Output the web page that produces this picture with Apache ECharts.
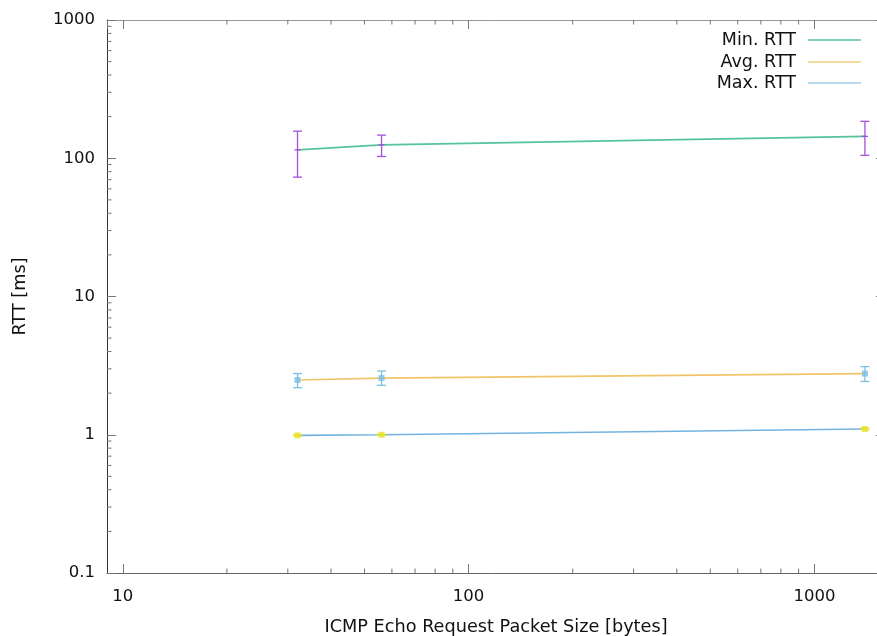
<!DOCTYPE html>
<html>
<head>
<meta charset="utf-8">
<script src="https://cdn.jsdelivr.net/npm/echarts@6/dist/echarts.min.js"></script>
<style>
  html, body { margin: 0; padding: 0; background: #fff; }
  #chart { width: 877px; height: 636px; }
</style>
</head>
<body>
<div id="chart"></div>
<script>
// packet sizes [bytes]
const sizes = [32, 56, 1400];

// "Min. RTT" line + purple error bars
const minRtt = [115, 125, 144];
const minLow = [73, 103, 105];
const minHigh = [157, 147, 185];

// "Avg. RTT" line + light blue error bars
const avgRtt = [2.49, 2.57, 2.77];
const avgLow = [2.19, 2.28, 2.43];
const avgHigh = [2.77, 2.89, 3.11];

// "Max. RTT" line + yellow error bars
const maxRtt = [0.99, 1.0, 1.1];
const maxLow = [0.98, 0.99, 1.09];
const maxHigh = [1.0, 1.01, 1.12];

// axis ranges and minor ticks
const xMin = 9, xMax = 1600;
const yMin = 0.1, yMax = 1000;
const xMinorTicks = [20, 30, 40, 50, 60, 70, 80, 90, 200, 300, 400, 500, 600, 700, 800, 900];
const yMinorTicks = [0.2, 0.3, 0.4, 0.5, 0.6, 0.7, 0.8, 0.9, 2, 3, 4, 5, 6, 7, 8, 9,
  20, 30, 40, 50, 60, 70, 80, 90, 200, 300, 400, 500, 600, 700, 800, 900];

const FONT = 'DejaVu Sans';
const fmt = v => String(parseFloat(Number(v).toPrecision(6)));

function zip(a, b, c, d) {
  return a.map((x, i) => [x, b[i], c[i], d[i]]);
}

function errorBars(color, center) {
  return function (params, api) {
    const x = api.value(0);
    const c = api.coord([x, api.value(1)]);
    const lo = api.coord([x, api.value(2)]);
    const hi = api.coord([x, api.value(3)]);
    const st = { stroke: color, lineWidth: 1.3 };
    const kids = [
      { type: 'line', shape: { x1: lo[0], y1: lo[1], x2: hi[0], y2: hi[1] }, style: st },
      { type: 'line', shape: { x1: lo[0] - 4.5, y1: lo[1], x2: lo[0] + 4.5, y2: lo[1] }, style: st },
      { type: 'line', shape: { x1: hi[0] - 4.5, y1: hi[1], x2: hi[0] + 4.5, y2: hi[1] }, style: st }
    ];
    if (center === 'dash') {
      kids.push({ type: 'line', shape: { x1: c[0] - 3, y1: c[1], x2: c[0] + 3, y2: c[1] }, style: st });
    } else {
      kids.push({ type: 'rect', shape: { x: c[0] - 3, y: c[1] - 3, width: 6, height: 6 },
        style: { fill: color, opacity: 0.8 } });
    }
    return { type: 'group', children: kids };
  };
}

const tickColor = '#777';

const chart = echarts.init(document.getElementById('chart'));
chart.setOption({
  animation: false,
  backgroundColor: '#fff',
  textStyle: { fontFamily: FONT },
  grid: { left: 107, top: 20, width: 778, height: 553, containLabel: false, outerBoundsMode: 'none' },
  legend: [
    { data: ['Min. RTT'], right: 16, top: 31 },
    { data: ['Avg. RTT'], right: 16, top: 53 },
    { data: ['Max. RTT'], right: 16, top: 74 }
  ].map(l => Object.assign({
    orient: 'vertical', align: 'right', icon: 'rect', itemWidth: 53, itemHeight: 1.6,
    padding: 0, selectedMode: false,
    textStyle: { fontFamily: FONT, fontSize: 17.5, color: '#111', padding: [0, 7, 0, 0] }
  }, l)),
  xAxis: [
    {
      type: 'log', logBase: 10, min: xMin, max: xMax, position: 'bottom',
      name: 'ICMP Echo Request Packet Size [bytes]', nameLocation: 'middle', nameGap: 45,
      nameTextStyle: { fontFamily: FONT, fontSize: 17.7, color: '#111' },
      axisLine: { show: true, lineStyle: { color: '#666', width: 1 } },
      axisTick: { show: true, inside: true, length: 9, lineStyle: { color: tickColor } },
      axisLabel: { margin: 15, fontFamily: FONT, fontSize: 16.5, color: '#111',
        showMinLabel: false, showMaxLabel: false, formatter: fmt },
      splitLine: { show: false }
    },
    {
      type: 'log', logBase: 10, min: xMin, max: xMax, position: 'top',
      axisLine: { show: true, lineStyle: { color: '#999', width: 1 } },
      axisTick: { show: true, inside: true, length: 9, lineStyle: { color: tickColor } },
      axisLabel: { show: false },
      splitLine: { show: false }
    }
  ],
  yAxis: [
    {
      type: 'log', logBase: 10, min: yMin, max: yMax, position: 'left',
      name: 'RTT [ms]', nameLocation: 'middle', nameGap: 78, nameRotate: 90,
      nameTextStyle: { fontFamily: FONT, fontSize: 17.7, color: '#111' },
      axisLine: { show: true, lineStyle: { color: '#333', width: 1 } },
      axisTick: { show: true, inside: true, length: 9, lineStyle: { color: tickColor } },
      axisLabel: { margin: 12, fontFamily: FONT, fontSize: 16.5, color: '#111', formatter: fmt },
      splitLine: { show: false }
    },
    {
      type: 'log', logBase: 10, min: yMin, max: yMax, position: 'right',
      axisLine: { show: true, lineStyle: { color: '#999', width: 1 } },
      axisTick: { show: true, inside: true, length: 9, lineStyle: { color: tickColor } },
      axisLabel: { show: false },
      splitLine: { show: false }
    }
  ],
  series: [
    {
      type: 'custom', name: 'xminor', silent: true, clip: false,
      data: xMinorTicks.map(v => [v]),
      renderItem: function (params, api) {
        const v = api.value(0);
        const b = api.coord([v, yMin]);
        const t = api.coord([v, yMax]);
        const st = { stroke: tickColor, lineWidth: 1 };
        return { type: 'group', children: [
          { type: 'line', shape: { x1: b[0], y1: b[1], x2: b[0], y2: b[1] - 4.5 }, style: st },
          { type: 'line', shape: { x1: t[0], y1: t[1], x2: t[0], y2: t[1] + 4.5 }, style: st }
        ] };
      }
    },
    {
      type: 'custom', name: 'yminor', silent: true, clip: false,
      data: yMinorTicks.map(v => [xMin, v]),
      renderItem: function (params, api) {
        const v = api.value(1);
        const l = api.coord([xMin, v]);
        const r = api.coord([xMax, v]);
        const st = { stroke: tickColor, lineWidth: 1 };
        return { type: 'group', children: [
          { type: 'line', shape: { x1: l[0], y1: l[1], x2: l[0] + 4.5, y2: l[1] }, style: st },
          { type: 'line', shape: { x1: r[0], y1: r[1], x2: r[0] - 4.5, y2: r[1] }, style: st }
        ] };
      }
    },
    {
      type: 'custom', name: 'minErr', silent: true, z: 3,
      data: zip(sizes, minRtt, minLow, minHigh),
      renderItem: errorBars('#a550dd', 'dash')
    },
    {
      type: 'line', name: 'Min. RTT', data: sizes.map((x, i) => [x, minRtt[i]]),
      color: '#55c39c', lineStyle: { width: 1.6, color: '#55c39c' }, showSymbol: false, z: 2
    },
    {
      type: 'custom', name: 'avgErr', silent: true, z: 3,
      data: zip(sizes, avgRtt, avgLow, avgHigh),
      renderItem: errorBars('#7cbfe6', 'square')
    },
    {
      type: 'line', name: 'Avg. RTT', data: sizes.map((x, i) => [x, avgRtt[i]]),
      color: '#f2cd7c', lineStyle: { width: 1.6, color: '#f2c46a' }, showSymbol: false, z: 2
    },
    {
      type: 'custom', name: 'maxErr', silent: true, z: 3,
      data: zip(sizes, maxRtt, maxLow, maxHigh),
      renderItem: errorBars('#e6e12e', 'square')
    },
    {
      type: 'line', name: 'Max. RTT', data: sizes.map((x, i) => [x, maxRtt[i]]),
      color: '#9fcbe8', lineStyle: { width: 1.6, color: '#74b3df' }, showSymbol: false, z: 2
    }
  ]
});

window.addEventListener('resize', function () {
  chart.resize();
});
</script>
</body>
</html>
